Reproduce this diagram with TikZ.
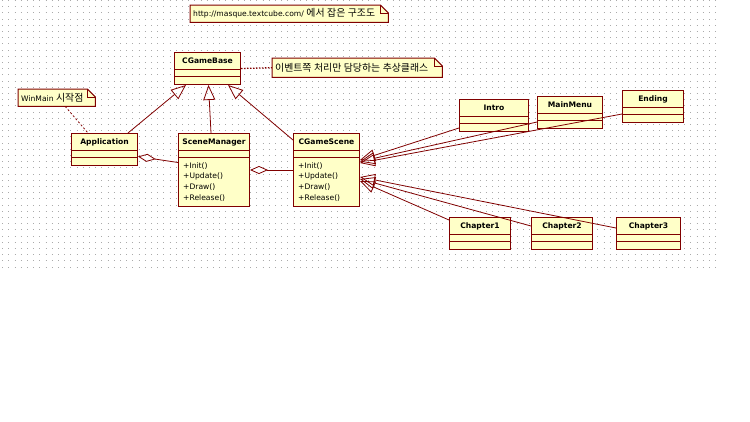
\documentclass[tikz,border=0pt]{standalone}
\usepackage{fontspec}
\setmainfont{DejaVu Sans}
\newfontfamily\kr[Scale=1.3]{Noto Sans CJK KR}
\usetikzlibrary{arrows.meta,positioning,calc}

\definecolor{umlred}{RGB}{128,0,0}
\definecolor{umlfill}{RGB}{255,255,200}
\definecolor{griddot}{RGB}{170,170,170}

\tikzset{
  clsbox/.style={draw=umlred, fill=umlfill, line width=1pt, anchor=north west, inner sep=0pt},
  clsname/.style={font=\fontsize{7.6}{9}\selectfont\bfseries, inner sep=0pt},
  method/.style={font=\fontsize{7.6}{9}\selectfont, anchor=west, inner sep=0pt},
  notebox/.style={fill=umlfill, anchor=north west, inner xsep=3pt, inner ysep=0pt, align=left,
    font=\fontsize{7.6}{9}\selectfont},
  inherit/.style={draw=umlred, line width=0.8pt, -{Triangle[open, length=15pt, width=12pt]}},
  aggr/.style={draw=umlred, line width=0.8pt, {Diamond[open, length=18pt, width=8pt]}-},
  noteline/.style={draw=umlred, line width=1.3pt, dash pattern=on 1.5pt off 1.5pt},
  anchorline/.style={draw=umlred, line width=0.8pt, dash pattern=on 2pt off 2pt},
}

% class box: id, corner, width, height, title
\newcommand{\umlclass}[5]{%
  \node[clsbox, minimum width=#3, minimum height=#4] (#1) at #2 {};
  \node[clsname] at ($(#1.north)+(0,9)$) {#5};
  \draw[umlred, line width=1pt] ($(#1.north west)+(0,17)$) -- ($(#1.north east)+(0,17)$);
  \draw[umlred, line width=1pt] ($(#1.north west)+(0,24)$) -- ($(#1.north east)+(0,24)$);
}

% folded corner of a note
\newcommand{\notefold}[1]{%
  \fill[white] ([xshift=-8pt]#1.north east) -- (#1.north east) -- ([yshift=-8pt]#1.north east) -- cycle;
  \draw[umlred, line width=1pt] (#1.north west) -- ([xshift=-8pt]#1.north east)
    -- ([yshift=-8pt]#1.north east) -- (#1.south east) -- (#1.south west) -- cycle;
  \draw[umlred, line width=0.8pt] ([xshift=-8pt]#1.north east) |- ([yshift=-8pt]#1.north east);
}

\begin{document}
\begin{tikzpicture}[x=1pt, y=-1pt]
    % Canvas and dotted grid
    \fill[white] (0,0) rectangle (750,421);
    \useasboundingbox (0,0) rectangle (750,421);
    \foreach \k in {0,...,43}
        \draw[griddot, line width=1pt, dash pattern=on 1pt off 5.2pt] (2.2,{0.5+6.2*\k}) -- (716.5,{0.5+6.2*\k});

    % Notes
    \node[notebox, text width=192pt, minimum height=17pt] (webnote) at (190,5)
        {http://masque.textcube.com/ {\kr 에서 잡은 구조도}};
    \notefold{webnote}
    \node[notebox, text width=164pt, minimum height=19pt] (eventnote) at (272,58)
        {{\kr 이벤트쪽 처리만 담당하는 추상클래스}};
    \notefold{eventnote}
    \node[notebox, text width=71pt, minimum height=17pt] (winnote) at (18,89)
        {WinMain {\kr 시작점}};
    \notefold{winnote}

    % Classes
    \umlclass{base}{(174,52)}{66}{32}{CGameBase}
    \umlclass{app}{(71,133)}{66}{32}{Application}
    \umlclass{mgr}{(178,133)}{71}{73}{SceneManager}
    \umlclass{scene}{(293,133)}{66}{73}{CGameScene}
    \umlclass{intro}{(459,99)}{69}{32}{Intro}
    \umlclass{mmenu}{(537,96)}{65}{32}{MainMenu}
    \umlclass{ending}{(622,90)}{61}{32}{Ending}
    \umlclass{ch1}{(449,217)}{61}{32}{Chapter1}
    \umlclass{ch2}{(531,217)}{61}{32}{Chapter2}
    \umlclass{ch3}{(616,217)}{64}{32}{Chapter3}

    % Operations
    \foreach \m [count=\i] in {Init,Update,Draw,Release} {
        \node[method] at ($(mgr.north west)+(5,22.3+10.7*\i)$) {+\m()};
        \node[method] at ($(scene.north west)+(5,22.3+10.7*\i)$) {+\m()};
    }

    % Note links
    \draw[noteline] (base.east) -- (eventnote.west);
    \draw[anchorline] ([xshift=8.5pt]winnote.south) -- ([xshift=17pt]app.north west);

    % Generalization to CGameBase
    \draw[inherit] ([xshift=-10pt]app.north east) -- ([xshift=12pt]base.south west);
    \draw[inherit] ([xshift=-3pt]mgr.north) -- ([xshift=1pt]base.south);
    \draw[inherit] ([yshift=-7pt]scene.north west) -- ([xshift=-13pt]base.south east);

    % Aggregation
    \draw[aggr] ([yshift=-7pt]app.east) -- ([yshift=7.5pt]mgr.west);
    \draw[aggr] (mgr.east) -- (scene.west);

    % Generalization to CGameScene
    \draw[inherit] ($(intro.south west)+(0,-4)$) -- ($(scene.north east)+(0,27)$);
    \draw[inherit] ($(mmenu.south west)+(0,-7)$) -- ($(scene.north east)+(0,28.5)$);
    \draw[inherit] ($(ending.south west)+(0,-9)$) -- ($(scene.north east)+(0,30)$);
    \draw[inherit] ($(ch1.north west)+(0,3)$) -- ($(scene.north east)+(0,48)$);
    \draw[inherit] ($(ch2.north west)+(0,9)$) -- ($(scene.north east)+(0,46)$);
    \draw[inherit] ($(ch3.north west)+(0,11)$) -- ($(scene.north east)+(0,44)$);
\end{tikzpicture}
\end{document}
